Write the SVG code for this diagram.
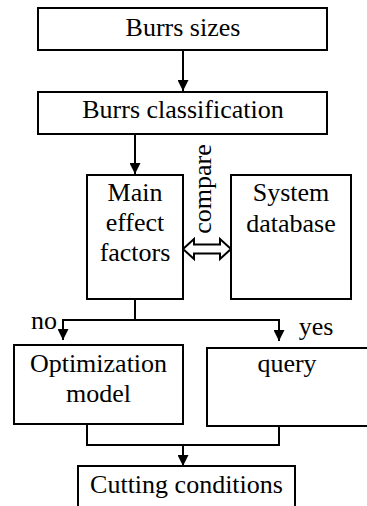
<svg xmlns="http://www.w3.org/2000/svg" width="367" height="506" viewBox="0 0 367 506">
<style>
.box{fill:#fff;stroke:#000;stroke-width:2}
.ln{fill:none;stroke:#000;stroke-width:2}
</style>
<defs>
<marker id="ah" markerUnits="userSpaceOnUse" markerWidth="11" markerHeight="11" viewBox="0 0 10 10" refX="10" refY="5" orient="auto">
<path d="M0,0 L10,5 L0,10 Z" fill="#000"/>
</marker>
</defs>
<g id="connectors">
<line class="ln" x1="183" y1="50" x2="183" y2="91" marker-end="url(#ah)"/>
<line class="ln" x1="135" y1="134" x2="135" y2="174" marker-end="url(#ah)"/>
<polyline class="ln" points="135,299 135,320"/>
<polyline class="ln" points="63,320 279,320"/>
<line class="ln" x1="63" y1="319" x2="63" y2="340" marker-end="url(#ah)"/>
<line class="ln" x1="279" y1="319" x2="279" y2="341" marker-end="url(#ah)"/>
<polyline class="ln" points="87,424 87,445 279,445 279,426"/>
<line class="ln" x1="183" y1="445" x2="183" y2="466" marker-end="url(#ah)"/>
<polygon class="box" points="183,249 194,239 194,244.5 220,244.5 220,239 231,249 220,259 220,253.5 194,253.5 194,259"/>
<text font-family="Liberation Serif" font-size="26" text-anchor="middle" transform="translate(211,189) rotate(-90)">compare</text>
<text font-family="Liberation Serif" font-size="26" text-anchor="middle" x="44" y="329">no</text>
<text font-family="Liberation Serif" font-size="26" text-anchor="middle" x="316" y="335">yes</text>
</g>
<g id="burrs-sizes">
<rect class="box" x="38" y="8" width="289" height="42"/>
<text font-family="Liberation Serif" font-size="26" text-anchor="middle" x="183" y="36">Burrs sizes</text>
</g>
<g id="burrs-classification">
<rect class="box" x="38" y="92" width="289" height="42"/>
<text font-family="Liberation Serif" font-size="26" text-anchor="middle" x="183" y="118">Burrs classification</text>
</g>
<g id="main-effect-factors">
<rect class="box" x="87" y="175" width="96" height="124"/>
<text font-family="Liberation Serif" font-size="26" text-anchor="middle" x="135" y="201">Main</text>
<text font-family="Liberation Serif" font-size="26" text-anchor="middle" x="135" y="231">effect</text>
<text font-family="Liberation Serif" font-size="26" text-anchor="middle" x="135" y="261">factors</text>
</g>
<g id="system-database">
<rect class="box" x="231" y="175" width="120" height="124"/>
<text font-family="Liberation Serif" font-size="26" text-anchor="middle" x="291" y="201">System</text>
<text font-family="Liberation Serif" font-size="26" text-anchor="middle" x="291" y="232">database</text>
</g>
<g id="optimization-model">
<rect class="box" x="14" y="345" width="169" height="79"/>
<text font-family="Liberation Serif" font-size="26" text-anchor="middle" x="98.5" y="372">Optimization</text>
<text font-family="Liberation Serif" font-size="26" text-anchor="middle" x="98.5" y="402">model</text>
</g>
<g id="query">
<rect class="box" x="207" y="348" width="165" height="78"/>
<text font-family="Liberation Serif" font-size="26" text-anchor="middle" x="287" y="372">query</text>
</g>
<g id="cutting-conditions">
<rect class="box" x="78" y="466" width="217" height="50"/>
<text font-family="Liberation Serif" font-size="26" text-anchor="middle" x="186.5" y="493">Cutting conditions</text>
</g>
</svg>
